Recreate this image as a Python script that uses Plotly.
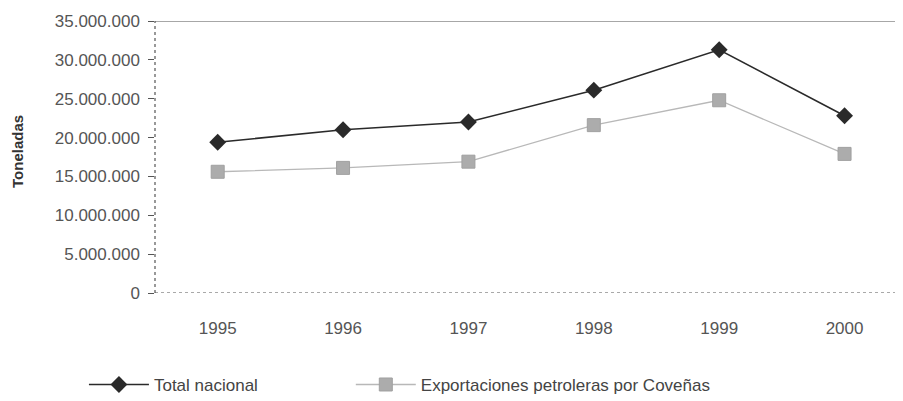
import plotly.graph_objects as go

years = ["1995", "1996", "1997", "1998", "1999", "2000"]
total_nacional = [19400000, 21000000, 22000000, 26100000, 31300000, 22800000]
exportaciones_covenas = [15600000, 16100000, 16900000, 21600000, 24800000, 17900000]
y_ticks = [0, 5000000, 10000000, 15000000, 20000000, 25000000, 30000000, 35000000]
y_tick_labels = ["0", "5.000.000", "10.000.000", "15.000.000", "20.000.000",
                 "25.000.000", "30.000.000", "35.000.000"]

FONT = "Liberation Sans, Arial, sans-serif"

fig = go.Figure()

fig.add_trace(go.Scatter(
    x=years, y=total_nacional, name="Total nacional",
    mode="lines+markers",
    line=dict(color="#2a2a2a", width=1.6),
    marker=dict(symbol="diamond", size=13, color="#2a2a2a"),
    legend="legend",
))
fig.add_trace(go.Scatter(
    x=years, y=exportaciones_covenas, name="Exportaciones petroleras por Coveñas",
    mode="lines+markers",
    line=dict(color="#b8b8b8", width=1.3),
    marker=dict(symbol="square", size=13, color="#acacac",
                line=dict(color="#a0a0a0", width=1)),
    legend="legend2",
))

# frame: solid top line, dotted left and bottom axes
fig.add_shape(type="line", xref="paper", yref="y", x0=0, x1=1, y0=35000000, y1=35000000,
              line=dict(color="#8a8a8a", width=1.3))
fig.add_shape(type="line", xref="paper", yref="y", x0=0, x1=1, y0=0, y1=0,
              line=dict(color="#555555", width=1.2, dash="dot"))
fig.add_shape(type="line", xref="paper", yref="y", x0=0, x1=0, y0=0, y1=35000000,
              line=dict(color="#555555", width=1.2, dash="dot"))

fig.add_annotation(
    text="<b>Toneladas</b>", textangle=-90, showarrow=False,
    xref="paper", yref="paper", x=-0.182, y=0.52, xanchor="center", yanchor="middle",
    font=dict(size=15, color="#333333", family=FONT),
)

# invisible long ticks push the year labels down
fig.update_xaxes(
    type="category", range=[-0.5, 5.53],
    showgrid=False, zeroline=False, showline=False,
    ticks="outside", ticklen=20, tickcolor="rgba(0,0,0,0)",
    tickfont=dict(size=17, color="#555555", family=FONT),
)
fig.update_yaxes(
    range=[0, 35000000], tickvals=y_ticks,
    ticktext=[t + "\u00a0" for t in y_tick_labels],
    showgrid=False, zeroline=False, showline=False,
    ticks="outside", ticklen=6, tickcolor="#555555", tickwidth=1.3,
    tickfont=dict(size=17, color="#555555", family=FONT),
)

legend_font = dict(size=17, color="#444444", family=FONT)
fig.update_layout(
    width=903, height=401,
    margin=dict(l=147, r=0, t=13, b=116),
    paper_bgcolor="white", plot_bgcolor="white",
    font=dict(family=FONT, color="#444444"),
    showlegend=True,
    legend=dict(orientation="h", x=-0.094, y=-0.338, xanchor="left", yanchor="middle",
                font=legend_font, itemwidth=60, bgcolor="rgba(0,0,0,0)"),
    legend2=dict(orientation="h", x=0.259, y=-0.338, xanchor="left", yanchor="middle",
                 font=legend_font, itemwidth=60, bgcolor="rgba(0,0,0,0)"),
)

fig.write_html("out.html")
